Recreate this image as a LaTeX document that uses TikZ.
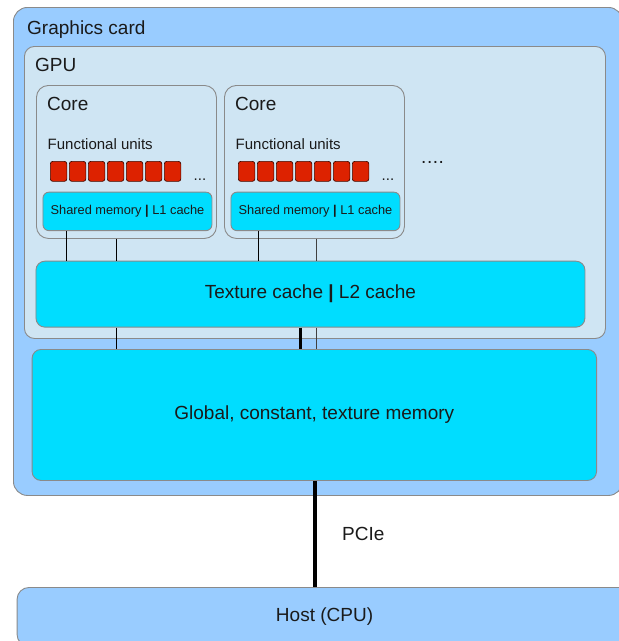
\documentclass[tikz,border=0pt]{standalone}
\usepackage{fontspec}
\setmainfont{Liberation Sans}
\definecolor{cardblue}{HTML}{99CCFF}
\definecolor{gpublue}{HTML}{CFE5F3}
\definecolor{cachecyan}{HTML}{00DDFF}
\definecolor{unitred}{HTML}{DD2200}
\definecolor{edgegray}{HTML}{8A8A8A}
\definecolor{txt}{HTML}{1A1A1A}
\tikzset{
  boxbase/.style={draw=edgegray, line width=0.9pt, inner sep=0pt, anchor=north west, text=txt},
  cardbox/.style={boxbase, fill=cardblue, rounded corners=14pt},
  gpubox/.style={boxbase, fill=gpublue, rounded corners=10pt},
  corebox/.style={boxbase, fill=gpublue, rounded corners=12pt},
  cachebox/.style={boxbase, fill=cachecyan, rounded corners=9pt, font=\fontsize{19}{22}\selectfont},
  smbox/.style={boxbase, fill=cachecyan, rounded corners=6pt, font=\fontsize{12.8}{15}\selectfont},
  unitbox/.style={draw=black!70!unitred, fill=unitred, line width=0.7pt, rounded corners=2.5pt, inner sep=0pt, minimum width=16.5pt, minimum height=20pt, anchor=north west},
  title/.style={anchor=base west, inner sep=0pt, text=txt, font=\fontsize{19}{22}\selectfont},
  subtitle/.style={anchor=base west, inner sep=0pt, text=txt, font=\fontsize{15}{18}\selectfont},
  conn/.style={draw=black, line width=0.9pt},
  connthick/.style={draw=black, line width=4pt},
}
\begin{document}
\begin{tikzpicture}[x=1pt,y=-1pt]
\useasboundingbox (0,0) rectangle (619,641);
\clip (0,0) rectangle (619,641);
\fill[white] (0,0) rectangle (619,641);

% graphics card
\node[cardbox, minimum width=609pt, minimum height=488pt] (card) at (13,7) {};
\node[title] (cardlbl) at (27,34) {Graphics card};

% GPU
\node[gpubox, minimum width=581pt, minimum height=292pt] (gpu) at (24,46) {};
\node[title] (gpulbl) at (35,71) {GPU};

% cores
\node[corebox, minimum width=180pt, minimum height=153pt] (core1) at (36,85) {};
\node[corebox, minimum width=180pt, minimum height=153pt] (core2) at (224,85) {};
\node[title] (core1lbl) at (47,110) {Core};
\node[title] (core2lbl) at (235,110) {Core};
\node[subtitle] (fu1lbl) at (47.5,149.3) {Functional units};
\node[subtitle] (fu2lbl) at (235.5,149.3) {Functional units};

\foreach \i in {0,...,6} {
  \node[unitbox] (ua\i) at ({50+\i*19},161) {};
  \node[unitbox] (ub\i) at ({238+\i*19},161) {};
}
\node[subtitle] (dots1) at (193.5,180) {...};
\node[subtitle] (dots2) at (381.5,180) {...};
\node[title, font=\fontsize{19}{22}\selectfont\addfontfeatures{LetterSpace=3}] (dots3) at (421,163.5) {....};

% shared memory
\node[smbox, minimum width=169pt, minimum height=38.5pt] (sm1) at (42.5,191.7) {Shared memory \textbf{|} L1 cache\hspace{3pt}};
\node[smbox, minimum width=169pt, minimum height=38.5pt] (sm2) at (230.5,191.7) {Shared memory \textbf{|} L1 cache\hspace{3pt}};

% texture cache
\node[cachebox, minimum width=549pt, minimum height=66pt] (tex) at (35.5,260.7) {Texture cache \textbf{|} L2 cache};

% global memory
\node[cachebox, minimum width=564.5pt, minimum height=131pt] (glob) at (31.6,349) {Global, constant, texture memory};

% host
\node[boxbase, fill=cardblue, rounded corners=12pt, minimum width=615pt, minimum height=59pt, font=\fontsize{19}{22}\selectfont] (host) at (16.6,587) {Host (CPU)};

% connectors
\draw[conn] (66.7,0 |- sm1.south) -- (66.7,0 |- tex.north);
\draw[conn] (116.3,0 |- core1.south) -- (116.3,0 |- tex.north);
\draw[conn] (116.3,0 |- tex.south) -- (116.3,0 |- glob.north);
\draw[conn] (258.5,0 |- sm2.south) -- (258.5,0 |- tex.north);
\draw[conn, draw=black!75] (316,0 |- core2.south) -- (316,0 |- tex.north);
\draw[conn, draw=black!75] (316,0 |- tex.south) -- (316,0 |- glob.north);
\draw[connthick, line width=3pt] (300.5,0 |- tex.south) -- (300.5,0 |- glob.north);
\draw[connthick] (314.6,0 |- glob.south) -- (314.6,0 |- host.north);
\node[title] (pcie) at (342,540) {PCIe};
\end{tikzpicture}
\end{document}
